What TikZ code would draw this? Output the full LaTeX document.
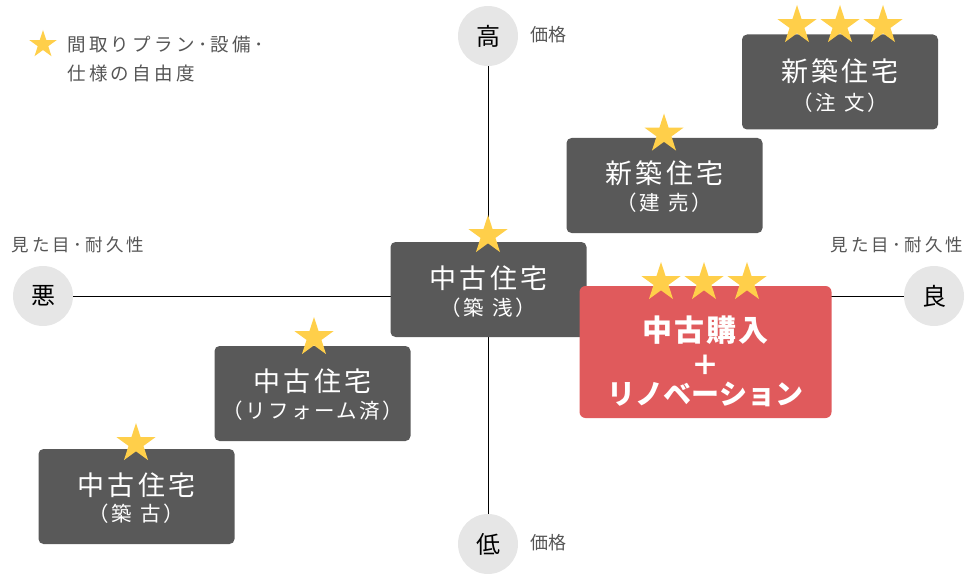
\documentclass[tikz,border=0pt]{standalone}
\usepackage{fontspec}
\setmainfont{Noto Sans CJK JP}
\newfontfamily\widefont{Noto Sans CJK JP}[LetterSpace=12]
\newfontfamily\notefont{Noto Sans CJK JP}[LetterSpace=18]
\usetikzlibrary{shapes.geometric}
\definecolor{boxgray}{HTML}{595959}
\definecolor{renored}{HTML}{E05A5C}
\definecolor{stargold}{HTML}{FFCF4A}
\definecolor{axisgray}{HTML}{E6E6E6}
\definecolor{labelgray}{HTML}{555555}

\begin{document}
\begin{tikzpicture}[x=1pt,y=-1pt,
  house/.style={fill=boxgray, rounded corners=5pt, minimum width=196pt, minimum height=95pt, inner sep=0pt},
  reno/.style={fill=renored, rounded corners=6pt, minimum width=252pt, minimum height=132pt, inner sep=0pt},
  title/.style={text=white, font=\widefont\fontsize{27}{30}\selectfont, inner sep=0pt},
  sub/.style={text=white, font=\widefont\fontsize{20.5}{22}\selectfont, inner sep=0pt},
  renotext/.style={text=white, font=\bfseries\fontsize{28}{30}\selectfont, inner sep=0pt},
  star5/.style={star, star points=5, star point ratio=2.618, fill=stargold, minimum size=41pt, inner sep=0pt},
  axis/.style={circle, fill=axisgray, minimum size=60pt, inner sep=0pt, text=black, font=\fontsize{24}{24}\selectfont},
  note/.style={text=labelgray, font=\fontsize{18}{20}\selectfont, inner sep=0pt}]
\useasboundingbox (0,0) rectangle (976,580);

% axes
\node[axis] (high) at (488,36) {高};
\node[axis] (low) at (488,544) {低};
\node[axis] (bad) at (43,296) {悪};
\node[axis] (good) at (934,296) {良};
\draw[line width=0.8pt] (high)--(low);
\draw[line width=0.8pt] (bad)--(good);
\node[note] (price-h) at (548,35) {価格};
\node[note] (price-l) at (548,543) {価格};
\node[note, font=\notefont\fontsize{17.5}{20}\selectfont] (look-l) at (78,245) {見た目･耐久性};
\node[note, font=\notefont\fontsize{17.5}{20}\selectfont] (look-r) at (897,245) {見た目･耐久性};

% legend
\node[star5, minimum size=29pt] (legend-star) at (43,44.5) {};
\node[note, anchor=west, font=\notefont\fontsize{18.5}{20}\selectfont] (legend-1) at (67,45) {間取りプラン･設備･};
\node[note, anchor=west, font=\notefont\fontsize{18.5}{20}\selectfont] (legend-2) at (67,73) {仕様の自由度};

% new houses
\node[house] (tyumon) at (840,82) {};
\node[title] (tyumon-t) at (840,71) {新築住宅};
\node[sub] (tyumon-s) at (840,103) {（注\hspace{0.4em}文）};
\node[star5] (tyumon-s1) at (797,25.5) {};
\node[star5] (tyumon-s2) at (840,25.5) {};
\node[star5] (tyumon-s3) at (883,25.5) {};

\node[house] (tateuri) at (664.5,185.5) {};
\node[title] (tateuri-t) at (664.5,173) {新築住宅};
\node[sub] (tateuri-s) at (664.5,203) {（建\hspace{0.4em}売）};
\node[star5] (tateuri-s1) at (664,134) {};

% used houses
\node[house] (chikuasa) at (488.5,289.5) {};
\node[title] (chikuasa-t) at (488.5,278) {中古住宅};
\node[sub] (chikuasa-s) at (488.5,307.5) {（築\hspace{0.4em}浅）};
\node[star5] (chikuasa-s1) at (488,235.5) {};

\node[house] (reform) at (312.5,393.5) {};
\node[title] (reform-t) at (312.5,381.5) {中古住宅};
\node[sub] (reform-s) at (312.5,411) {（リフォーム済）};
\node[star5] (reform-s1) at (314,337.5) {};

\node[house] (chikuko) at (136.5,496.5) {};
\node[title] (chikuko-t) at (136.5,485) {中古住宅};
\node[sub] (chikuko-s) at (136.5,514) {（築\hspace{0.4em}古）};
\node[star5] (chikuko-s1) at (136,443.5) {};

% purchase + renovation
\node[reno] (reno) at (705.5,352) {};
\node[renotext, font=\bfseries\fontsize{30}{30}\selectfont\addfontfeature{LetterSpace=6}] (reno-1) at (705.5,330.5) {中古購入};
\node[renotext] (reno-2) at (705.5,365) {＋};
\node[renotext] (reno-3) at (705.5,394) {リノベーション};
\node[star5] (reno-s1) at (661,282.5) {};
\node[star5] (reno-s2) at (704,282.5) {};
\node[star5] (reno-s3) at (747,282.5) {};
\end{tikzpicture}
\end{document}
